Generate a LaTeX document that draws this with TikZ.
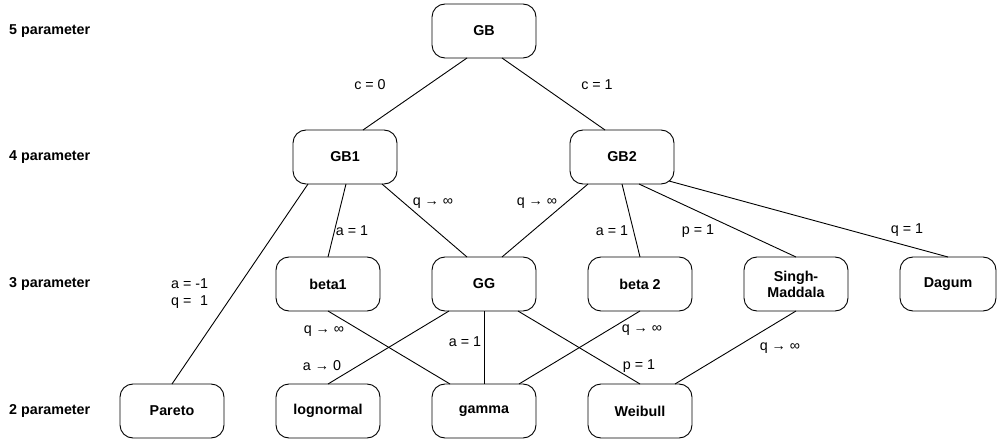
\documentclass[tikz,border=0pt]{standalone}
\usepackage{fontspec}
\setmainfont{Liberation Sans}
\usepackage{tikz}
\usetikzlibrary{positioning}

\newcommand{\labelsize}{\fontsize{14.3}{17}\selectfont}

\begin{document}
\begin{tikzpicture}[x=1pt, y=-1pt,
    node distance=52pt,
    dist box/.style={draw, rounded corners=13pt, line width=0.9pt, outer sep=0pt, minimum width=104pt, minimum height=54pt, inner sep=2pt, font=\bfseries\labelsize, align=center},
    row label/.style={anchor=west, inner sep=0pt, font=\bfseries\labelsize},
    cond/.style={inner sep=1pt, font=\labelsize},
    link/.style={line width=0.9pt}
]
\useasboundingbox (0,0) rectangle (997,441);

% Row labels on the left
\node[row label] (row5) at (9,31) {5 parameter};
\node[row label] (row4) at (9,157) {4 parameter};
\node[row label] (row3) at (9,284) {3 parameter};
\node[row label] (row2) at (9,411) {2 parameter};

% Top two levels
\node[dist box] (gb) at (484,31) {GB};
\node[dist box] (gb1) at (345,157) {GB1};
\node[dist box] (gb2) at (622,157) {GB2};

% 3 parameter row - boxes placed one after the other
\node[dist box] (beta1) at (328,284) {beta1};
\node[dist box, right=of beta1] (gg) {GG};
\node[dist box, right=of gg] (beta2) {beta 2};
\node[dist box, right=of beta2] (sm) {Singh-\\[-1pt]Maddala};
\node[dist box, right=of sm, minimum width=96pt] (dagum) {Dagum};

% 2 parameter row
\node[dist box] (pareto) at (172,411) {Pareto};
\node[dist box, right=of pareto] (lognormal) {lognormal};
\node[dist box, right=of lognormal] (gamma) {gamma};
\node[dist box, right=of gamma] (weibull) {Weibull};

% Links from GB
\draw[link] ([xshift=-17pt]gb.south) -- ([xshift=18pt]gb1.north);
\draw[link] ([xshift=18pt]gb.south) -- ([xshift=-17pt]gb2.north);

% Links from GB1
\draw[link] ([xshift=-37pt]gb1.south) -- (pareto.north);
\draw[link] ([xshift=1pt]gb1.south) -- (beta1.north);
\draw[link] ([xshift=37pt]gb1.south) -- ([xshift=-17pt]gg.north);

% Links from GB2
\draw[link] ([xshift=-34pt]gb2.south) -- ([xshift=18pt]gg.north);
\draw[link] (gb2.south) -- (beta2.north);
\draw[link] ([xshift=17pt]gb2.south) -- (sm.north);
\draw[link] ([xshift=-5pt,yshift=3pt]gb2.south east) -- (dagum.north);

% Links down to the 2 parameter row
\draw[link] (beta1.south) -- ([xshift=-34pt]gamma.north);
\draw[link] ([xshift=-35pt]gg.south) -- (lognormal.north);
\draw[link] (gg.south) -- (gamma.north);
\draw[link] ([xshift=34pt]gg.south) -- (weibull.north);
\draw[link] (beta2.south) -- ([xshift=35pt]gamma.north);
\draw[link] (sm.south) -- ([xshift=35pt]weibull.north);

% Parameter conditions
\node[cond] (c0) at (370,85) {c = 0};
\node[cond] (c1) at (597,85) {c = 1};
\node[cond, anchor=west, align=left] (aq) at (170,294) {a = -1\\q = \phantom{-}1};
\node[cond] (a1left) at (352,231) {a = 1};
\node[cond] (qgg1) at (433,203) {q → ∞};
\node[cond] (qgg2) at (537,203) {q → ∞};
\node[cond] (a1right) at (612,231) {a = 1};
\node[cond] (p1sm) at (698,231) {p = 1};
\node[cond] (q1dagum) at (907,230) {q = 1};
\node[cond] (qbeta1) at (324,331) {q → ∞};
\node[cond] (a0) at (322,366) {a → 0};
\node[cond] (a1gg) at (465,342) {a = 1};
\node[cond] (p1gg) at (639,366) {p = 1};
\node[cond] (qbeta2) at (642,330) {q → ∞};
\node[cond] (qsm) at (780,348) {q → ∞};

\end{tikzpicture}
\end{document}
